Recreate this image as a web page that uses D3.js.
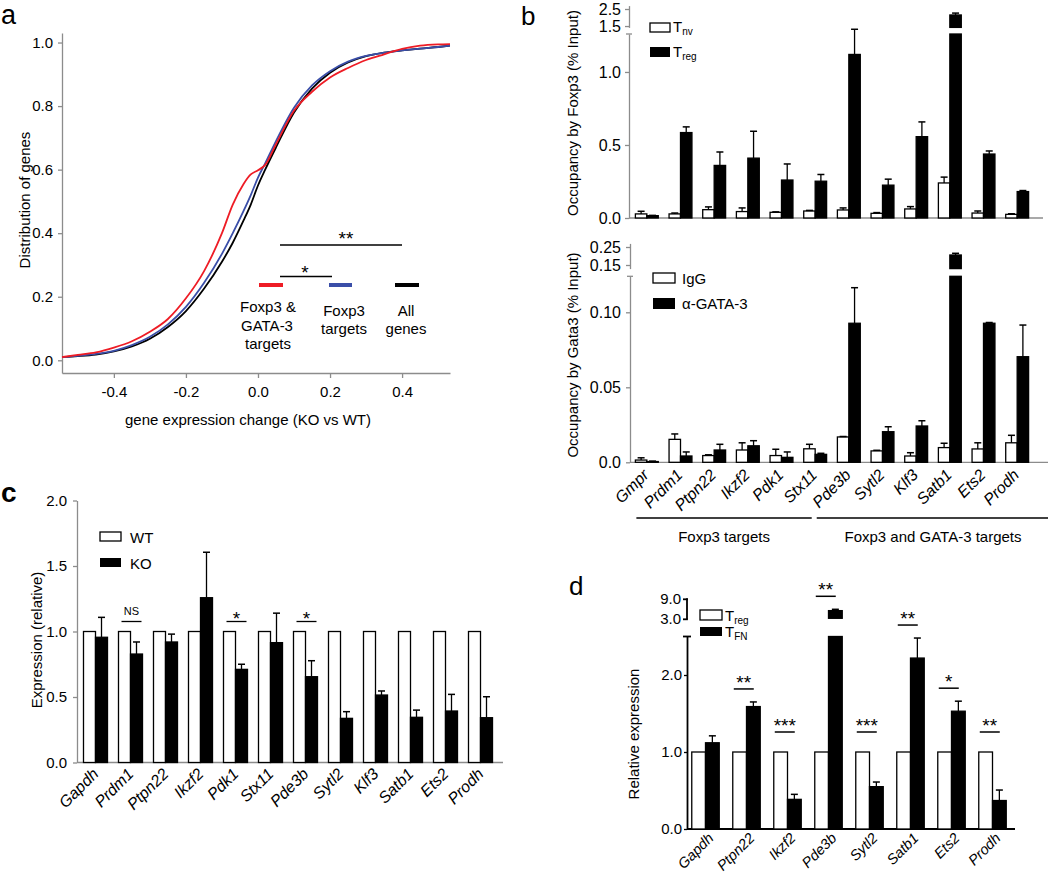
<!DOCTYPE html>
<html><head><meta charset="utf-8">
<script src="https://cdn.jsdelivr.net/npm/d3@7"></script>
<style>body{margin:0;background:#fff}svg{font-family:"Liberation Sans",Arial,sans-serif}</style>
</head><body><svg id="fig" width="1050" height="875"></svg>
<script>
// ---------------- DATA ----------------
// panel a: cumulative distributions
const aX     = [-0.544,-0.5,-0.45,-0.4,-0.35,-0.3,-0.25,-0.2,-0.15,-0.1,-0.07,-0.04,-0.02,0,0.02,0.05,0.1,0.15,0.2,0.25,0.3,0.35,0.4,0.45,0.5,0.533];
const aRed   = [0.01,0.017,0.025,0.04,0.06,0.09,0.13,0.195,0.28,0.4,0.49,0.555,0.585,0.598,0.615,0.68,0.785,0.845,0.89,0.92,0.945,0.963,0.98,0.99,0.994,0.995];
const aBlue  = [0.01,0.014,0.02,0.03,0.048,0.074,0.113,0.168,0.243,0.335,0.4,0.47,0.52,0.575,0.62,0.69,0.795,0.865,0.91,0.94,0.958,0.968,0.975,0.981,0.986,0.99];
const aBlack = [0.01,0.013,0.018,0.028,0.044,0.068,0.105,0.155,0.225,0.31,0.37,0.44,0.49,0.55,0.6,0.67,0.78,0.855,0.905,0.937,0.957,0.968,0.975,0.981,0.986,0.99];
const aXTicks = [-0.4,-0.2,0,0.2,0.4];
const aXTickLabels = ["-0.4","-0.2","0.0","0.2","0.4"];
const aYTicks = [0,0.2,0.4,0.6,0.8,1.0];
const aYTickLabels = ["0.0","0.2","0.4","0.6","0.8","1.0"];

// panel b
const bCats = ["Gmpr","Prdm1","Ptpn22","Ikzf2","Pdk1","Stx11","Pde3b","Sytl2","Klf3","Satb1","Ets2","Prodh"];
const bTnv     = [0.028,0.028,0.057,0.044,0.039,0.048,0.055,0.032,0.062,0.24,0.034,0.025];
const bTnvErr  = [0.046,0.034,0.076,0.069,0.042,0.052,0.069,0.037,0.078,0.28,0.048,0.029];
const bTreg    = [0.016,0.585,0.36,0.41,0.26,0.252,1.12,0.225,0.557,2.15,0.438,0.181];
const bTregErr = [0.018,0.624,0.452,0.594,0.37,0.298,1.31,0.266,0.658,2.26,0.459,0.188];
const bIgG     = [0.0015,0.0153,0.0045,0.0082,0.0045,0.009,0.0169,0.0076,0.0042,0.0098,0.0089,0.013];
const bIgGErr  = [0.003,0.0189,0.005,0.013,0.0087,0.012,0.0172,0.008,0.0064,0.0127,0.013,0.018];
const bGata    = [0.0005,0.0042,0.0082,0.011,0.0033,0.0053,0.0927,0.0204,0.0242,0.2056,0.0927,0.0704];
const bGataErr = [0.0008,0.0069,0.012,0.0144,0.0069,0.006,0.1164,0.0237,0.0277,0.215,0.0932,0.0915];
const bTopTicks = [0,0.5,1.0], bTopTickLabels = ["0.0","0.5","1.0"];
const bTopUpTicks = [1.5,2.5], bTopUpTickLabels = ["1.5","2.5"];
const bBotTicks = [0,0.05,0.10], bBotTickLabels = ["0.0","0.05","0.10"];
const bBotUpTicks = [0.15,0.25], bBotUpTickLabels = ["0.15","0.25"];

// panel c
const cCats = ["Gapdh","Prdm1","Ptpn22","Ikzf2","Pdk1","Stx11","Pde3b","Sytl2","Klf3","Satb1","Ets2","Prodh"];
const cWT    = [1,1,1,1,1,1,1,1,1,1,1,1];
const cKO    = [0.956,0.828,0.92,1.258,0.711,0.915,0.655,0.337,0.515,0.345,0.393,0.342];
const cKOErr = [1.108,0.92,0.98,1.605,0.75,1.14,0.777,0.388,0.546,0.4,0.52,0.502];
const cSig   = ["","NS","","","*","","*","","","","",""];
const cTicks = [0,0.5,1.0,1.5,2.0], cTickLabels = ["0.0","0.5","1.0","1.5","2.0"];

// panel d
const dCats = ["Gapdh","Ptpn22","Ikzf2","Pde3b","Sytl2","Satb1","Ets2","Prodh"];
const dTreg   = [1,1,1,1,1,1,1,1];
const dTFN    = [1.12,1.59,0.385,5.6,0.55,2.22,1.53,0.37];
const dTFNErr = [1.21,1.65,0.45,6.0,0.61,2.48,1.66,0.506];
const dSig    = ["","**","***","**","***","**","*","**"];
const dTicks = [0,1.0,2.0], dTickLabels = ["0.0","1.0","2.0"];
const dUpTicks = [3.0,9.0], dUpTickLabels = ["3.0","9.0"];

// ---------------- DRAW ----------------
const svg = d3.select("#fig");
const AXC = "#8c8c8c";
function styleAxis(sel, fs){
  sel.select(".domain").attr("stroke", AXC).attr("stroke-width", 1.3);
  sel.selectAll(".tick line").attr("stroke", AXC).attr("stroke-width", 1.3);
  sel.selectAll(".tick text").attr("fill","#000").style("font-size", fs+"px")
     .style("font-family",'"Liberation Sans",Arial,sans-serif');
}
function yAxis(g, scale, x, vals, labels, ts, pad, fs){
  g.append("g").attr("transform",`translate(${x},0)`)
   .call(d3.axisLeft(scale).tickValues(vals).tickFormat((d,i)=>labels[i]).tickSize(ts).tickPadding(pad).tickSizeOuter(0))
   .call(styleAxis, fs);
}
function txt(g, x, y, s, fs, anchor){
  return g.append("text").attr("x",x).attr("y",y).text(s).style("font-size",fs+"px")
    .attr("text-anchor",anchor||"start").attr("fill","#000");
}
function vlabel(g, x, y, s, fs){
  g.append("text").attr("transform",`translate(${x},${y}) rotate(-90)`).attr("text-anchor","middle")
   .style("font-size",fs+"px").text(s);
}
function hline(g,x1,x2,y,c,w){ g.append("line").attr("x1",x1).attr("x2",x2).attr("y1",y).attr("y2",y).attr("stroke",c||"#000").attr("stroke-width",w||1.3); }
function vline(g,x,y1,y2,c,w){ g.append("line").attr("x1",x).attr("x2",x).attr("y1",y1).attr("y2",y2).attr("stroke",c||"#000").attr("stroke-width",w||1.3); }

// draw bars with optional broken axis
function bars(g, cats, x, off, w, vals, errs, yL, yU, fill){
  const lowTop = yL.domain()[1];
  vals.forEach((v,i)=>{
    const x0 = x(cats[i]) + off;
    let topY;
    if (yU && v > lowTop){
      g.append("rect").attr("x",x0).attr("width",w).attr("y",yL(lowTop)).attr("height",yL(0)-yL(lowTop))
        .attr("fill",fill).attr("stroke","#000").attr("stroke-width",1.3);
      g.append("rect").attr("x",x0).attr("width",w).attr("y",yU(v)).attr("height",yU(yU.domain()[0])-yU(v))
        .attr("fill",fill).attr("stroke","#000").attr("stroke-width",1.3);
      topY = yU(v);
    } else {
      g.append("rect").attr("x",x0).attr("width",w).attr("y",yL(v)).attr("height",yL(0)-yL(v))
        .attr("fill",fill).attr("stroke","#000").attr("stroke-width",1.3);
      topY = yL(v);
    }
    if (errs && errs[i] > v){
      const ey = (yU && errs[i] > lowTop) ? yU(errs[i]) : yL(errs[i]);
      const cx = x0 + w/2;
      vline(g, cx, topY, ey, "#000", 1.3);
      hline(g, cx-3.5, cx+3.5, ey, "#000", 1.5);
    }
  });
}
function errTop(v, e, yL, yU){
  const lowTop = yL.domain()[1];
  const m = Math.max(v, e);
  return (yU && m > lowTop) ? yU(m) : yL(m);
}
function xLabels(g, cats, x, dx, y, fs){
  cats.forEach(c=>{
    const px = x(c) + x.bandwidth()/2 + dx;
    g.append("text").attr("transform",`translate(${px},${y}) rotate(-45)`).attr("text-anchor","end")
     .style("font-size",fs+"px").style("font-style","italic").text(c);
  });
}

// ===== Panel a =====
{
  const g = svg.append("g");
  const x = d3.scaleLinear().domain([-0.544,0.533]).range([62,450]);
  const y = d3.scaleLinear().domain([-0.04,1.03]).range([373,33]);
  g.append("g").attr("transform","translate(0,373)")
   .call(d3.axisBottom(x).tickValues(aXTicks).tickFormat((d,i)=>aXTickLabels[i]).tickSize(5).tickPadding(8).tickSizeOuter(0))
   .call(styleAxis,15);
  yAxis(g, y, 62, aYTicks, aYTickLabels, 4, 5, 15);
  const line = d3.line().x((d,i)=>x(aX[i])).y(d=>y(d)).curve(d3.curveMonotoneX);
  [[aBlack,"#000"],[aBlue,"#3a4ea8"],[aRed,"#ee1c25"]].forEach(([s,c])=>{
    g.append("path").datum(s).attr("d",line).attr("fill","none").attr("stroke",c).attr("stroke-width",1.8);
  });
  txt(g, 1, 24, "a", 27);
  vlabel(g, 30, 200, "Distribution of genes", 15);
  txt(g, 248, 425, "gene expression change (KO vs WT)", 15, "middle");
  // legend
  hline(g,259,283,285,"#ee1c25",4); hline(g,329,352,285,"#3a4ea8",4); hline(g,395,419,285,"#000",4);
  txt(g,268,312,"Foxp3 &",15,"middle"); txt(g,267,331,"GATA-3",15,"middle"); txt(g,268,349,"targets",15,"middle");
  txt(g,344,316,"Foxp3",15,"middle"); txt(g,344,334,"targets",15,"middle");
  txt(g,406,316,"All",15,"middle"); txt(g,406,334,"genes",15,"middle");
  hline(g,280,402,245); txt(g,346,245,"**",19,"middle");
  hline(g,280,332,276.5); txt(g,305,279,"*",19,"middle");
}

// ===== Panel b =====
{
  const g = svg.append("g");
  const x = d3.scaleBand().domain(bCats).range([630,1034]).paddingInner(0.32).paddingOuter(0.16);
  const w = x.bandwidth()/2;
  // top
  const yL = d3.scaleLinear().domain([0,1.26]).range([218,34]);
  const yU = d3.scaleLinear().domain([1.42,2.7]).range([27.4,5.6]);
  hline(g,629,1043,218,AXC,1.3);
  yAxis(g, yL, 629, bTopTicks, bTopTickLabels, 4, 4, 16);
  yAxis(g, yU, 629, bTopUpTicks, bTopUpTickLabels, 4, 4, 16);
  hline(g,626,632,yL.range()[1],AXC,1.3);
  bars(g,bCats,x,0,w,bTnv,bTnvErr,yL,yU,"#fff");
  bars(g,bCats,x,w,w,bTreg,bTregErr,yL,yU,"#000");
  g.append("rect").attr("x",650).attr("y",23).attr("width",20).attr("height",9).attr("fill","#fff").attr("stroke","#000").attr("stroke-width",1.3);
  g.append("rect").attr("x",650).attr("y",47).attr("width",20).attr("height",10).attr("fill","#000");
  let t = txt(g,673,32,"T",15); t.append("tspan").attr("dy",3).style("font-size","10px").text("nv");
  t = txt(g,673,57,"T",15); t.append("tspan").attr("dy",3).style("font-size","10px").text("reg");
  txt(g,521,25,"b",26);
  vlabel(g,578,113,"Occupancy by Foxp3 (% Input)",15);

  // bottom
  const yL2 = d3.scaleLinear().domain([0,0.124]).range([462.3,276.3]);
  const yU2 = d3.scaleLinear().domain([0.13,0.27]).range([268.6,243.4]);
  hline(g,630,1048,462.3,AXC,1.3);
  yAxis(g, yL2, 630, bBotTicks, bBotTickLabels, 4, 5, 16);
  yAxis(g, yU2, 630, bBotUpTicks, bBotUpTickLabels, 4, 5, 16);
  hline(g,627,633,yL2.range()[1],AXC,1.3);
  bars(g,bCats,x,0,w,bIgG,bIgGErr,yL2,yU2,"#fff");
  bars(g,bCats,x,w,w,bGata,bGataErr,yL2,yU2,"#000");
  g.append("rect").attr("x",653).attr("y",273).attr("width",22).attr("height",10).attr("fill","#fff").attr("stroke","#000").attr("stroke-width",1.3);
  g.append("rect").attr("x",653).attr("y",298).attr("width",22).attr("height",11).attr("fill","#000");
  txt(g,682,284,"IgG",15); txt(g,682,309,"α-GATA-3",15);
  vlabel(g,578,355,"Occupancy by Gata3 (% Input)",15);
  xLabels(g,bCats,x,3,476,16);
  const g1s = x(bCats[0]) + 1, g1e = x(bCats[5]) + 8, g2s = x(bCats[5]) + 13;
  hline(g,g1s,g1e,518,"#000",1.3); hline(g,g2s,1048,518,"#000",1.3);
  txt(g,(g1s+g1e)/2,542,"Foxp3 targets",15,"middle");
  txt(g,933,542,"Foxp3 and GATA-3 targets",15,"middle");
}

// ===== Panel c =====
{
  const g = svg.append("g");
  const x = d3.scaleBand().domain(cCats).range([78,498]).paddingInner(0.314).paddingOuter(0.157);
  const w = x.bandwidth()/2;
  const y = d3.scaleLinear().domain([0,2.0]).range([762.5,500.5]);
  hline(g,77,503,762.5,AXC,1.3);
  yAxis(g, y, 77, cTicks, cTickLabels, 4, 6, 15);
  bars(g,cCats,x,0,w,cWT,null,y,null,"#fff");
  bars(g,cCats,x,w,w,cKO,cKOErr,y,null,"#000");
  cSig.forEach((s,i)=>{
    if(!s) return;
    const ly = Math.min(errTop(cKO[i],cKOErr[i],y,null)-13, y(cWT[i])-10);
    const x0 = x(cCats[i]) + 3;
    hline(g,x0,x0+20,ly,"#000",1.3);
    if (s==="NS") txt(g,x0+10,ly-7,s,11,"middle");
    else txt(g,x0+10,ly+3.5,s,19,"middle");
  });
  g.append("rect").attr("x",100).attr("y",532).attr("width",21).attr("height",9).attr("fill","#fff").attr("stroke","#000").attr("stroke-width",1.3);
  g.append("rect").attr("x",100).attr("y",558).attr("width",21).attr("height",9).attr("fill","#000");
  txt(g,130,543,"WT",15); txt(g,130,569,"KO",15);
  txt(g,1,502,"c",28).style("font-weight","bold");
  vlabel(g,42,640,"Expression (relative)",15);
  xLabels(g,cCats,x,4,775,16);
}

// ===== Panel d =====
{
  const g = svg.append("g");
  const x = d3.scaleBand().domain(dCats).range([685,1013]).paddingInner(0.33).paddingOuter(0.165);
  const w = x.bandwidth()/2;
  const yL = d3.scaleLinear().domain([0,2.5]).range([829,636.5]);
  const yU = d3.scaleLinear().domain([3.3,9.3]).range([618.3,598.3]);
  hline(g,687,1015,829,"#000",1.8);
  g.append("g").attr("transform","translate(687,0)")
   .call(d3.axisLeft(yL).tickValues(dTicks).tickFormat((d,i)=>dTickLabels[i]).tickSize(3).tickPadding(2).tickSizeOuter(0))
   .call(styleAxis,15).call(s=>{s.select(".domain").attr("stroke","#000").attr("stroke-width",1.8);s.selectAll(".tick line").attr("stroke","#000");});
  hline(g,683,691,yL.range()[1],"#000",1.8);
  // upper bracket axis
  vline(g,687,yU(9.0)-1,yU(3.0),"#000",1.8);
  dUpTicks.forEach((t,i)=>{ hline(g,683,687.9,yU(t),"#000",1.8); txt(g,681,yU(t)+5,dUpTickLabels[i],15,"end"); });
  bars(g,dCats,x,0,w,dTreg,null,yL,yU,"#fff");
  bars(g,dCats,x,w,w,dTFN,dTFNErr,yL,yU,"#000");
  dSig.forEach((s,i)=>{
    if(!s) return;
    const ly = Math.min(errTop(dTFN[i],dTFNErr[i],yL,yU)-13, yL(dTreg[i])-20);
    const x0 = x(dCats[i]) + 1;
    hline(g,x0,x0+20,ly,"#000",1.5);
    txt(g,x0+10,ly,s,19,"middle");
  });
  g.append("rect").attr("x",700).attr("y",610).attr("width",22).attr("height",10).attr("fill","#fff").attr("stroke","#000").attr("stroke-width",1.3);
  g.append("rect").attr("x",700).attr("y",627).attr("width",22).attr("height",9).attr("fill","#000");
  let t = txt(g,725,621,"T",15); t.append("tspan").attr("dy",3).style("font-size","10px").text("reg");
  t = txt(g,725,637,"T",15); t.append("tspan").attr("dy",3).style("font-size","10px").text("FN");
  txt(g,569,595,"d",26);
  vlabel(g,639,734,"Relative expression",15);
  xLabels(g,dCats,x,9,839,14.5);
}
</script></body></html>
